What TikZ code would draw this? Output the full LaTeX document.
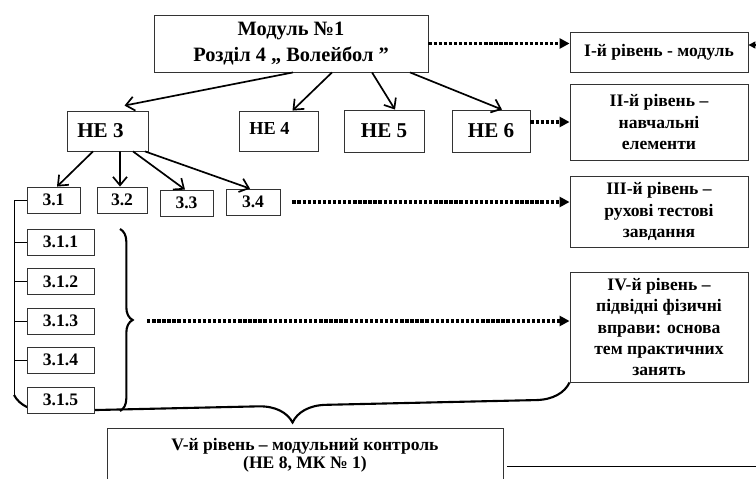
\documentclass[tikz,border=0pt]{standalone}
\usepackage{fontspec}
\setmainfont{Liberation Serif}
\usepackage{tikz}
\usetikzlibrary{arrows.meta, calc, decorations.pathreplacing, backgrounds}

\begin{document}
\begin{tikzpicture}[x=0.025cm, y=-0.025cm,
    box/.style={draw=black!80, line width=0.6pt, fill=white, inner sep=0pt, align=center},
    lvlbox/.style={box, minimum width=4.45cm, font=\bfseries\fontsize{12.5}{15}\selectfont},
    hebox/.style={box, minimum height=1.05cm, font=\bfseries\fontsize{15}{17}\selectfont},
    subbox/.style={box, minimum height=0.65cm, font=\bfseries\fontsize{12.5}{14}\selectfont},
    arr/.style={-{Straight Barb[length=6pt,width=10pt]}, line width=1.2pt},
    dotarr/.style={-{Triangle[length=7pt,width=7pt]}, line width=2.2pt, dash pattern=on 2.4pt off 1.2pt},
    brc/.style={decorate, line width=1.5pt}]
    \useasboundingbox (0,0) rectangle (756,479);
    \clip (0,0) rectangle (756,479);

    \node[box, minimum width=6.85cm, minimum height=1.425cm, font=\bfseries\fontsize{14.5}{18}\selectfont] (modul) at (291,43.5) {Модуль №1\\Розділ 4 ,, Волейбол ”};

    \node[lvlbox, minimum height=1.0cm] (lvl1) at (659,52) {І-й рівень - модуль};
    \node[lvlbox, minimum height=1.9cm] (lvl2) at (659,122) {ІІ-й рівень –\\навчальні\\елементи};
    \node[lvlbox, minimum height=1.775cm] (lvl3) at (659,211.5) {ІІІ-й рівень –\\рухові тестові\\завдання};
    \node[lvlbox, minimum height=2.75cm] (lvl4) at (659,327) {ІV-й рівень –\\підвідні фізичні\\вправи: основа\\тем практичних\\занять};
    \node[box, minimum width=9.9cm, minimum height=1.35cm, font=\bfseries\fontsize{12.5}{13}\selectfont] (lvl5) at (305,455) {V-й рівень – модульний контроль\\(НЕ 8, МК № 1)};

    \node[hebox, minimum width=2.025cm, minimum height=1.0cm] (he3) at (107.5,131) {НЕ 3\hspace*{10pt}};
    \node[hebox, minimum width=1.975cm, minimum height=1.0cm, font=\bfseries\fontsize{13}{15}\selectfont] (he4) at (278.5,131) {\raisebox{3pt}{НЕ 4}\hspace*{13pt}};
    \node[hebox, minimum width=2.0cm] (he5) at (384,131) {НЕ 5};
    \node[hebox, minimum width=1.95cm] (he6) at (491,131) {НЕ 6};

    \node[subbox, minimum width=1.325cm] (n31) at (53.5,200) {3.1};
    \node[subbox, minimum width=1.25cm] (n32) at (122,200) {3.2};
    \node[subbox, minimum width=1.325cm] (n33) at (186.5,203) {3.3};
    \node[subbox, minimum width=1.35cm] (n34) at (253,202) {3.4};
    \foreach \k/\y in {1/242, 2/281.5, 3/321, 4/360, 5/400}
        \node[subbox, minimum width=1.675cm] (n31\k) at (60.5,\y) {3.1.\k};

    \draw[arr] ($(modul.south)+(2,0)$) -- ($(he3.north)+(17,-5)$);
    \draw[arr] ($(modul.south)+(41,0)$) -- ($(he4.north)+(14,0)$);
    \draw[arr] ($(modul.south)+(81,0)$) -- ($(he5.north)+(11,0)$);
    \draw[arr] ($(modul.south)+(119,0)$) -- ($(he6.north)+(11,0)$);

    \draw[arr] ($(he3.south)+(-14.5,0)$) -- ($(n31.north)+(3.5,0)$);
    \draw[arr] ($(he3.south)+(12.5,0)$) -- ($(n32.north)+(-2,0)$);
    \draw[arr] ($(he3.south)+(25.5,0)$) -- ($(n33.north)+(-1.5,0)$);
    \draw[arr] ($(he3.south)+(37.5,0)$) -- ($(n34.north)+(-3,0)$);

    \coordinate (bl) at (14,395);
    \draw[line width=0.6pt] (n31.west) -| (bl);
    \foreach \k in {1,...,4}
        \draw[line width=0.6pt] (n31\k.west) -- (n31\k.west -| bl);

    \begin{scope}[on background layer]
        \draw[brc, decoration={brace, amplitude=9pt}] (120,229) -- (120,411);
        \draw[brc, decoration={brace, amplitude=24pt}] (lvl4.south west) -- (bl);
    \end{scope}
    \coordinate (tip4) at (133,321);

    \draw[dotarr] (modul.east) -- (modul.east -| lvl1.west);
    \draw[dotarr] (he6.east |- lvl2.west) -- (lvl2.west);
    \draw[dotarr, shorten <=8.5pt] (n34.east) -- (n34.east -| lvl3.west);
    \draw[dotarr, shorten <=10pt] (tip4) -- (tip4 -| lvl4.west);

    \coordinate (rim) at (758,45);
    \draw[-{Triangle[length=5pt,width=5pt]}, line width=1pt] (rim) -- (rim -| lvl1.east);
    \coordinate (rimb) at (756,466);
    \draw[line width=0.6pt] ($(rimb -| lvl5.east)+(4,0)$) -- (rimb);
\end{tikzpicture}
\end{document}
